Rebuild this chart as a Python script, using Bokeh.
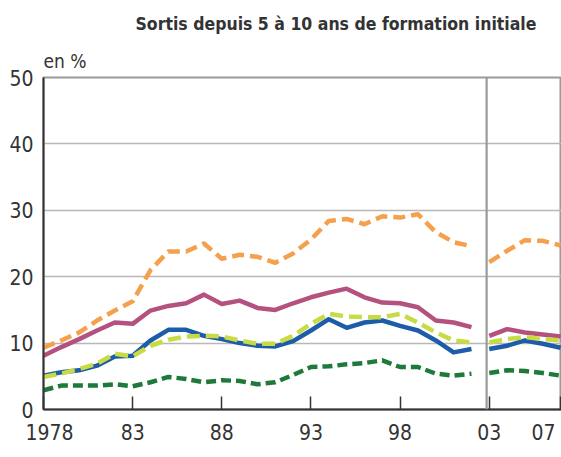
from bokeh.plotting import figure
from bokeh.models import FixedTicker, Span, Range1d, Title
from bokeh.embed import file_html
from bokeh.resources import INLINE

# ---- data -------------------------------------------------------------
years_before = list(range(1978, 2003))
years_after = list(range(2003, 2008))

orange_before = [9.3, 10.4, 11.6, 13.4, 14.9, 16.3, 21.0, 23.8, 23.8, 25.0,
                 22.7, 23.3, 23.0, 22.1, 23.5, 25.6, 28.4, 28.7, 27.9, 29.1,
                 28.9, 29.4, 26.7, 25.2, 24.6]
orange_after = [22.2, 23.9, 25.5, 25.4, 24.7]

mauve_before = [8.1, 9.4, 10.6, 11.9, 13.1, 12.9, 14.9, 15.6, 16.0, 17.3,
                15.9, 16.4, 15.3, 15.0, 16.0, 16.9, 17.6, 18.2, 16.9, 16.1,
                16.0, 15.4, 13.4, 13.1, 12.4]
mauve_after = [11.1, 12.1, 11.6, 11.3, 11.0]

blue_before = [5.1, 5.6, 5.9, 6.6, 8.0, 8.1, 10.4, 12.0, 12.0, 11.1,
               10.6, 10.0, 9.6, 9.5, 10.3, 11.9, 13.6, 12.3, 13.1, 13.4,
               12.6, 11.9, 10.4, 8.6, 9.1]
blue_after = [9.1, 9.6, 10.4, 9.9, 9.3]

lime_before = [4.9, 5.4, 6.1, 6.9, 8.4, 8.0, 9.6, 10.5, 11.0, 11.1,
               11.0, 10.4, 9.9, 9.9, 11.1, 12.9, 14.4, 14.0, 13.9, 13.9,
               14.4, 13.1, 11.6, 10.4, 10.1]
lime_after = [10.1, 10.6, 10.9, 10.6, 10.4]

dgreen_before = [2.9, 3.6, 3.6, 3.6, 3.8, 3.5, 4.1, 4.9, 4.6, 4.1,
                 4.4, 4.3, 3.8, 4.1, 5.2, 6.4, 6.5, 6.8, 7.0, 7.4,
                 6.4, 6.4, 5.4, 5.1, 5.4]
dgreen_after = [5.5, 5.9, 5.8, 5.5, 5.1]

NBSP = "\u00a0"
x_ticks = [1978, 1983, 1988, 1993, 1998, 2003, 2007]
x_tick_labels = [NBSP * 2 + "1978", "83", "88", "93", "98", "03", "07" + NBSP]
y_ticks = [0, 10, 20, 30, 40, 50]

title_text = "Sortis depuis 5 à 10 ans de formation initiale"
unit_text = "en %"
break_year = 2002.85

# ---- figure -----------------------------------------------------------
FONT = "'Liberation Sans Narrow', 'DejaVu Sans Condensed', sans-serif"

p = figure(width=561, height=457,
           x_range=Range1d(1978, 2007.05), y_range=Range1d(0, 50),
           output_backend="svg", toolbar_location=None,
           min_border_left=43, min_border_right=0,
           min_border_top=77, min_border_bottom=48)
p.outline_line_color = "#9a9a9a"
p.outline_line_width = 2
p.background_fill_color = "white"
p.border_fill_color = "white"

# grid
p.xgrid.visible = False
p.ygrid.ticker = FixedTicker(ticks=[10, 20, 30, 40])
p.ygrid.grid_line_color = "#b8b8b8"
p.ygrid.grid_line_width = 1.3
p.add_layout(Span(location=break_year, dimension="height",
                  line_color="#9a9a9a", line_width=2.2))

# axes
p.xaxis.ticker = FixedTicker(ticks=x_ticks)
p.xaxis.major_label_overrides = dict(zip(x_ticks, x_tick_labels))
p.xaxis.major_tick_in = 13
p.xaxis.major_tick_out = 0
p.xaxis.minor_tick_line_color = None
p.xaxis.major_tick_line_color = "#333333"
p.xaxis.major_tick_line_width = 1.5
p.xaxis.axis_line_color = "#333333"
p.xaxis.axis_line_width = 2
p.xaxis.major_label_standoff = 11

p.yaxis.ticker = FixedTicker(ticks=y_ticks)
p.yaxis.major_tick_in = 0
p.yaxis.major_tick_out = 0
p.yaxis.minor_tick_line_color = None
p.yaxis.axis_line_color = "#333333"
p.yaxis.axis_line_width = 2
p.yaxis.major_label_standoff = 10

for ax in (p.xaxis, p.yaxis):
    ax.major_label_text_font = FONT
    ax.major_label_text_font_size = "21px"
    ax.major_label_text_color = "#333333"

# series
styles = [
    (orange_before, orange_after, "#F5A04C", "12 6"),
    (mauve_before, mauve_after, "#B5517E", None),
    (blue_before, blue_after, "#1D5CA8", None),
    (lime_before, lime_after, "#C8DB45", "13 6"),
    (dgreen_before, dgreen_after, "#1E7A3A", "10 5"),
]
for before, after, color, dash in styles:
    for xs, ys in ((years_before, before), (years_after, after)):
        kw = dict(line_color=color, line_width=4.5, line_join="round")
        if dash:
            kw["line_dash"] = dash
        p.line(xs, ys, **kw)

# texts: unit (closest to plot) then main title above it
p.add_layout(Title(text=unit_text, align="left", offset=0, standoff=11,
                   text_font=FONT, text_font_size="19px",
                   text_font_style="normal", text_color="#333333"), "above")
p.add_layout(Title(text=title_text, align="left", offset=92, standoff=17,
                   text_font=FONT, text_font_size="17.5px",
                   text_font_style="bold", text_color="#333333"), "above")

open("out.html", "w").write(file_html(p, INLINE))
